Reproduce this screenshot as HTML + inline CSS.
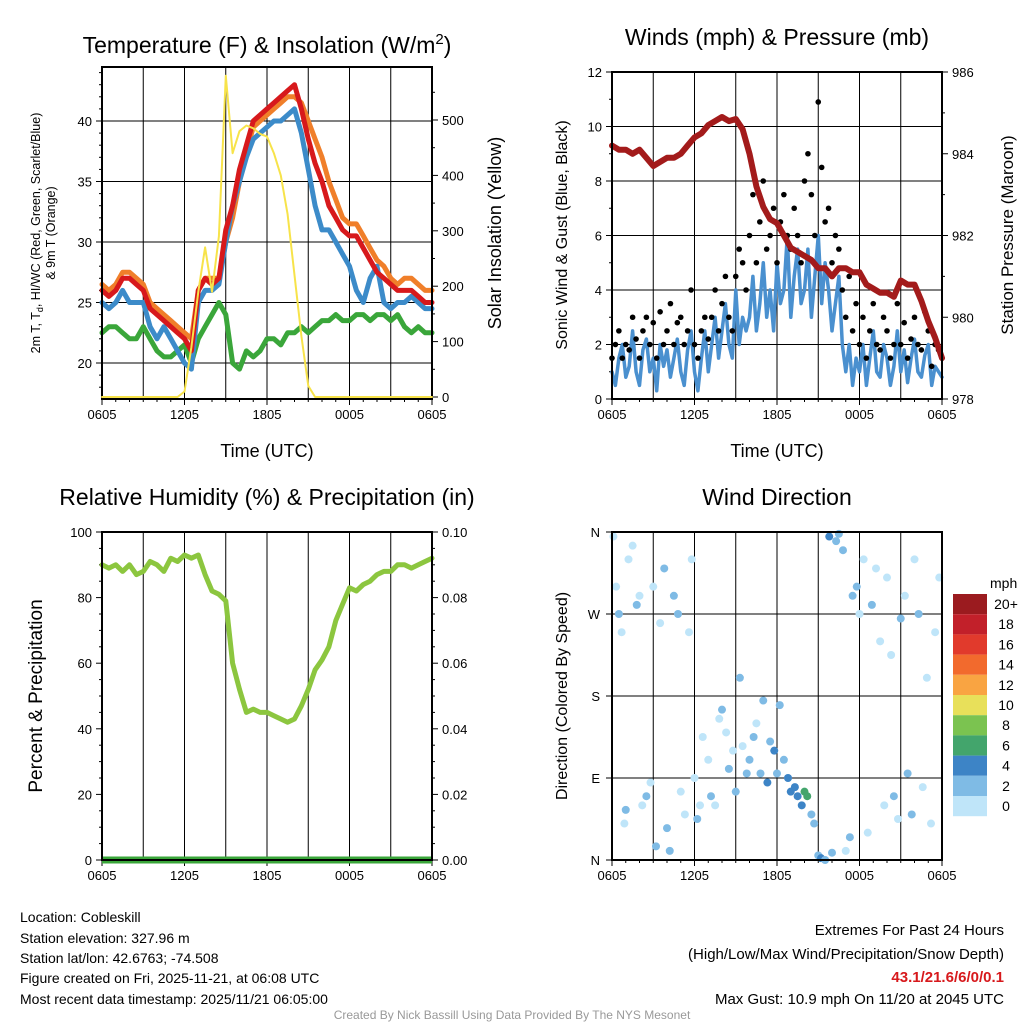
<!DOCTYPE html>
<html><head><meta charset="utf-8"><style>
html,body{margin:0;padding:0;background:#fff;}
svg{display:block;font-family:"Liberation Sans",Arial,sans-serif;}
</style></head><body>
<svg id="root" width="1024" height="1024" viewBox="0 0 1024 1024" xmlns="http://www.w3.org/2000/svg">
<text x="267" y="53" font-size="23" text-anchor="middle">Temperature (F) &amp; Insolation (W/m<tspan dy="-9" font-size="15">2</tspan><tspan dy="9">)</tspan></text>
<text x="777" y="45" font-size="23" text-anchor="middle">Winds (mph) &amp; Pressure (mb)</text>
<text x="267" y="505" font-size="23" text-anchor="middle">Relative Humidity (%) &amp; Precipitation (in)</text>
<text x="777" y="505" font-size="23" text-anchor="middle">Wind Direction</text>
<g id="g1"></g><g id="g2"></g><g id="g3"></g><g id="g4"></g>
<g font-size="14">
<text x="20" y="922">Location: Cobleskill</text>
<text x="20" y="943">Station elevation: 327.96 m</text>
<text x="20" y="963">Station lat/lon: 42.6763; -74.508</text>
<text x="20" y="983">Figure created on Fri, 2025-11-21, at 06:08 UTC</text>
<text x="20" y="1004">Most recent data timestamp: 2025/11/21 06:05:00</text>
</g>
<g font-size="15" text-anchor="end">
<text x="1004" y="935">Extremes For Past 24 Hours</text>
<text x="1004" y="959">(High/Low/Max Wind/Precipitation/Snow Depth)</text>
<text x="1004" y="982" fill="#d7191c" font-weight="bold">43.1/21.6/6/0/0.1</text>
<text x="1004" y="1004">Max Gust: 10.9 mph On 11/20 at 2045 UTC</text>
</g>
<text x="512" y="1019" font-size="12" fill="#999" text-anchor="middle">Created By Nick Bassill Using Data Provided By The NYS Mesonet</text>
</svg>
<script>
// ---- data (half-hour steps from 0605 UTC) ----
const xTickLabels = ["0605","1205","1805","0005","0605"];
const tempRed = [26,25.5,26,27,27,26.5,26,24.5,24,23.5,23,22.5,22,21,26,27,26.5,27,31,33,36,38,40,40.5,41,41.5,42,42.5,43,41,38.5,36.5,35,33,32,31,30.5,30.5,29.5,28.5,27.5,27,26.5,26,26,26,25.5,25,25];
const tempOrange = [26.5,26,26.5,27.5,27.5,27,26.5,25,24.5,24,23.5,23,22.5,22,26,27,27,27,30,32,35,37.5,39.5,40,40.5,41,41.5,42,42,41.5,40,38.5,37,35,33.5,32,31.5,31.5,30.5,29.5,28.5,28,27,26.5,27,27,26.5,26,26];
const tempBlue = [25,24.5,25,26,25,25,25,23,22,23,22,21,20,19.5,25,26,26,26.5,30,33,35,37,38.5,39,39.5,40,40,40.5,41,39,36,33,31,31,30,29,28,26,25,27,28,25,24.5,25,25,25.5,25,24.5,24.5];
const dewGreen = [22.5,23,23,22.5,22,22,23,22,21,20.5,20.5,21,21.5,20,22,23,24,25,24,20,19.5,21,20.5,21,22,22,21.5,22.5,22.5,23,22.5,23,23.5,23.5,24,23.5,23.5,24,24,23.5,24,24,23.5,24,23,22.5,23,22.5,22.5];
const solar = [0,0,0,0,0,0,0,0,0,0,0,0,10,90,190,270,190,290,580,440,480,490,485,475,470,440,400,330,220,110,20,0,0,0,0,0,0,0,0,0,0,0,0,0,0,0,0,0,0];
const pressure = [984.2,984.1,984.1,984.0,984.1,983.9,983.7,983.8,983.9,983.9,984.0,984.2,984.4,984.5,984.7,984.8,984.9,984.8,984.85,984.6,984.0,983.2,982.7,982.4,982.3,982.0,981.7,981.6,981.5,981.4,981.2,981.2,981.0,981.2,981.2,981.1,981.1,980.8,980.7,980.6,980.6,980.5,980.9,980.8,980.8,980.4,979.9,979.5,979.0];
const humidity = [90,89,90,88,90,87,88,91,90,88,92,91,93,92,93,87,82,81,79,60,52,45,46,45,45,44,43,42,43,47,52,58,61,65,73,78,83,82,84,85,87,88,88,90,90,89,90,91,92];
// quarter-hour steps
const sonicWind = [1.0,0.5,1.5,2,0.8,1.2,2.5,1,0.5,1.8,2.2,1,1.5,0.3,2,1.2,1.8,0.8,1.5,2.2,1,0.5,1.8,2.5,
 1,0.3,1.5,2.5,1,2,3,1.5,2.5,3.5,2,1.5,4,2,3,2.5,
 3,4.5,2.5,3.5,5,3,4,2.5,5,3.5,4,6,3,4.5,5.5,3.5,
 4,5.5,3,4.5,6,3.5,5,4,2.5,3.5,4.5,2,1,2,0.5,1.5,
 1,2,0.5,1.5,2.5,1,0.8,2,1.5,0.5,1.2,2.5,1,1.8,0.6,1.5,2.2,1,0.8,1.6,2,0.5,1.2,1,0.8];
const gusts = [1.5,2,2.5,1.5,2,1.8,3,2.2,1.5,2.5,3,2,2.8,1.5,3.2,2,2.5,3.5,2,2.8,3,2,2.5,4,
 2,1.5,2.5,3,2.2,3,4,2.5,3.5,4.5,3,2.5,4.5,5.5,5,4,
 6,7.5,5,6.5,8,5.5,6,7,5,6.5,7.5,6,5.5,7,6,5,
 8,9,7.5,6,10.9,8.5,6.5,7,5,6,5.5,4,3,4.5,2.5,3.5,
 2,3,1.5,2.5,3.5,2,1.8,3,2.5,1.5,2,3.5,2,2.8,1.5,2.2,3,2,1.8,3.2,2.5,1.2,2,1.8,1.5];
// wind direction obs: hours since 0605, degrees, mph
const wdTime = [0.1,0.3,0.5,0.7,0.9,1.0,1.2,1.5,1.8,2.0,2.2,2.5,2.8,3.0,3.2,3.5,3.8,4.0,4.2,4.5,4.8,5.0,5.3,5.6,5.8,6.0,6.2,6.4,6.6,7.0,7.2,7.5,7.8,8.0,8.3,8.5,8.8,9.0,9.3,9.5,9.8,10.0,10.3,10.5,10.8,11.0,11.3,11.5,11.8,12.0,12.2,12.5,12.8,13.0,13.3,13.5,13.8,14.0,14.2,14.5,14.7,15.0,15.2,15.5,15.8,16.0,16.3,16.5,16.8,17.0,17.3,17.5,17.8,18.0,18.3,18.6,18.9,19.2,19.5,19.8,20.0,20.3,20.5,20.8,21.0,21.3,21.5,21.8,22.0,22.3,22.6,22.9,23.2,23.5,23.8];
const wdDir = [355,300,270,250,40,55,330,345,280,290,60,70,85,300,15,260,320,35,10,290,270,75,50,250,330,90,45,60,135,110,70,60,155,165,140,100,120,75,200,125,95,110,135,150,95,175,85,130,120,95,170,110,90,75,80,70,60,75,70,50,40,5,2,0,355,8,350,358,340,10,25,290,300,270,330,30,280,320,240,60,310,225,70,45,265,290,95,50,330,270,80,200,40,250,310];
const wdSpeed = [1,1,3,1,1,2,1,1,2,1,1,2,1,1,2,1,2,3,3,2,3,1,1,1,1,1,2,1,1,1,2,1,1,2,1,2,1,2,2,1,2,3,2,1,3,3,4,2,4,2,2,3,4,5,5,5,5,6,6,2,2,2,4,3,4,2,3,2,3,1,2,3,2,1,1,1,2,1,1,1,1,1,2,1,2,1,2,2,1,3,1,1,1,1,1];
const cbLabels = ["20+","18","16","14","12","10","8","6","4","2","0"];
const cbColors = ["#9b1b1f","#c2202a","#e13a2c","#f26a2d","#f9a442","#e8e05a","#7bc350","#43a56c","#3d84c6","#7fbbe5","#bfe5f9"];

const NS="http://www.w3.org/2000/svg";
function mk(parent,tag,attrs,txt){const e=document.createElementNS(NS,tag);for(const k in attrs)e.setAttribute(k,attrs[k]);if(txt!==undefined)e.textContent=txt;parent.appendChild(e);return e;}
function lin(d0,d1,r0,r1){return v=>r0+(v-d0)/(d1-d0)*(r1-r0);}

function frame(g,L,T,R,B,name){
  const xs=lin(0,24,L,R);
  for(let h=0;h<=24;h+=3){const gl=mk(g,'line',{x1:xs(h),x2:xs(h),y1:T,y2:B,stroke:'#000','stroke-width':1});
    
    }
  for(let h=0;h<=24;h+=1){const len=(h%6===0)?6:3;mk(g,'line',{x1:xs(h),x2:xs(h),y1:B,y2:B+len,stroke:'#000'});}
  xTickLabels.forEach((s,i)=>{const t=mk(g,'text',{x:xs(i*6),y:B+20,'font-size':13,'text-anchor':'middle'},s);
    
    });
  return xs;
}
function border(g,L,T,R,B){const r=mk(g,'rect',{x:L,y:T,width:R-L,height:B-T,fill:'none',stroke:'#000','stroke-width':2});
  
  }
function yAxis(g,L,R,ys,ticks,minor,fmt,side,grid){
  minor.forEach(v=>{const x=side==='l'?L:R;mk(g,'line',{x1:x,x2:side==='l'?x-3:x+3,y1:ys(v),y2:ys(v),stroke:'#000'});});
  ticks.forEach(v=>{const x=side==='l'?L:R;
    if(grid)mk(g,'line',{x1:L,x2:R,y1:ys(v),y2:ys(v),stroke:'#000'});
    mk(g,'line',{x1:x,x2:side==='l'?x-6:x+6,y1:ys(v),y2:ys(v),stroke:'#000'});
    const t=mk(g,'text',{x:side==='l'?x-10:x+10,y:ys(v)+5,'font-size':13,'text-anchor':side==='l'?'end':'start'},fmt(v));
    
    });
}
function line(g,arr,xs,ys,step,color,w,name){
  const p=arr.map((v,i)=>(i?'L':'M')+xs(i*step).toFixed(1)+','+ys(v).toFixed(1)).join('');
  const e=mk(g,'path',{d:p,fill:'none',stroke:color,'stroke-width':w,'stroke-linejoin':'round','stroke-linecap':'round'});
  
  
  return e;
}

// Panel 1
(function(){
  const g=document.getElementById('g1');const L=102,T=67,R=432,B=399;
  const xs=frame(g,L,T,R,B,'temp');
  const ys=lin(20,40,363,121);const ys2=lin(0,500,397,120);
  const mn=[];for(let v=18;v<=44;v++)if(v%5)mn.push(v);
  yAxis(g,L,R,ys,[20,25,30,35,40],mn,v=>v,'l',true);
  yAxis(g,L,R,ys2,[0,100,200,300,400,500],[50,150,250,350,450,550],v=>v,'r',false);
  line(g,dewGreen,xs,ys,0.5,'#3aa63a',5,'dewpoint-line');
  line(g,tempOrange,xs,ys,0.5,'#f07f2a',5,'temp-9m-line');
  line(g,tempBlue,xs,ys,0.5,'#3c8bc9',5,'windchill-line');
  line(g,tempRed,xs,ys,0.5,'#d7191c',5,'temp-2m-line');
  border(g,L,T,R,B);
  line(g,solar,xs,ys2,0.5,'#f7e34a',2,'solar-insolation-line');
  let t=mk(g,'text',{x:267,y:457,'font-size':18,'text-anchor':'middle'},'Time (UTC)');
  t=mk(g,'text',{transform:'translate(40,233) rotate(-90)','font-size':12.5,'text-anchor':'middle'});
  t.innerHTML='2m T, T<tspan dy="3" font-size="9">d</tspan><tspan dy="-3">, HI/WC (Red, Green, Scarlet/Blue)</tspan>';
  
  t=mk(g,'text',{transform:'translate(55,233) rotate(-90)','font-size':12.5,'text-anchor':'middle'},'& 9m T (Orange)');
  
  t=mk(g,'text',{transform:'translate(501,233) rotate(-90)','font-size':18,'text-anchor':'middle'},'Solar Insolation (Yellow)');
  
})();

// Panel 2
(function(){
  const g=document.getElementById('g2');const L=612,T=72,R=942,B=399;
  const xs=frame(g,L,T,R,B,'winds');
  const ys=lin(0,12,399,72);const ys2=lin(978,986,399,72);
  yAxis(g,L,R,ys,[0,2,4,6,8,10,12],[1,3,5,7,9,11],v=>v,'l',true);
  yAxis(g,L,R,ys2,[978,980,982,984,986],[979,981,983,985],v=>v,'r',false);
  line(g,sonicWind,xs,ys,0.25,'#4a90cf',3.5,'sonic-wind-line');
  gusts.forEach((v,i)=>{const c=mk(g,'circle',{cx:xs(i*0.25),cy:ys(v),r:2.8,fill:'#000'});
    
    });
  line(g,pressure,xs,ys2,0.5,'#a31b1b',6,'pressure-line');
  border(g,L,T,R,B);
  let t=mk(g,'text',{x:777,y:457,'font-size':18,'text-anchor':'middle'},'Time (UTC)');
  t=mk(g,'text',{transform:'translate(567,235) rotate(-90)','font-size':16,'text-anchor':'middle'},'Sonic Wind & Gust (Blue, Black)');
  t=mk(g,'text',{transform:'translate(1013,235) rotate(-90)','font-size':17,'text-anchor':'middle'},'Station Pressure (Maroon)');
})();

// Panel 3
(function(){
  const g=document.getElementById('g3');const L=102,T=532,R=432,B=860;
  const xs=frame(g,L,T,R,B,'rh');
  const ys=lin(0,100,860,532);
  const mn=[];for(let v=5;v<100;v+=5)if(v%20)mn.push(v);
  yAxis(g,L,R,ys,[0,20,40,60,80,100],mn,v=>v,'l',false);
  yAxis(g,L,R,ys,[0,20,40,60,80,100],mn,v=>(v/1000).toFixed(2),'r',false);
  line(g,humidity,xs,ys,0.5,'#8cc63f',5,'humidity-line');
  const pr=mk(g,'line',{x1:L,x2:R,y1:ys(0),y2:ys(0),stroke:'#3aa63a','stroke-width':7});
  
  border(g,L,T,R,B);
  const t=mk(g,'text',{transform:'translate(42,696) rotate(-90)','font-size':19,'text-anchor':'middle'},'Percent & Precipitation');
})();

// Panel 4
(function(){
  const g=document.getElementById('g4');const L=612,T=532,R=942,B=860;
  const xs=frame(g,L,T,R,B,'wdir');
  const ys=lin(0,360,860,532);
  const lab=['N','E','S','W','N'];
  [0,90,180,270,360].forEach((v,i)=>{mk(g,'line',{x1:L,x2:R,y1:ys(v),y2:ys(v),stroke:'#000'});
    mk(g,'line',{x1:L,x2:L-6,y1:ys(v),y2:ys(v),stroke:'#000'});
    const t=mk(g,'text',{x:L-12,y:ys(v)+5,'font-size':13,'text-anchor':'end'},lab[i]);});
  wdTime.forEach((tm,i)=>{const sp=wdSpeed[i];const idx=Math.min(10,Math.floor(sp/2));
    const c=mk(g,'circle',{cx:xs(tm),cy:ys(wdDir[i]),r:4,fill:cbColors[10-idx]});
    
    });
  border(g,L,T,R,B);
  const t=mk(g,'text',{transform:'translate(567,696) rotate(-90)','font-size':16,'text-anchor':'middle'},'Direction (Colored By Speed)');
  const cb=mk(g,'g',{});
  mk(cb,'text',{x:990,y:588,'font-size':14},'mph');
  cbColors.forEach((c,i)=>{mk(cb,'rect',{x:953,y:594+i*20.2,width:34,height:20.2,fill:c});
    mk(cb,'text',{x:1006,y:609+i*20.2,'font-size':14,'text-anchor':'middle'},cbLabels[i]);});
})();
</script>
</body></html>
